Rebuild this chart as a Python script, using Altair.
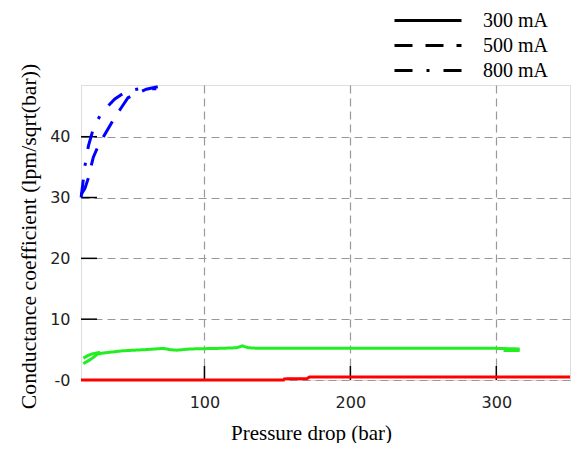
import altair as alt
import pandas as pd

# ---- data ----
currents = ["300 mA", "500 mA", "800 mA"]

blue_800_x = [15.5, 16.5, 18.1, 20.5, 23.8, 28.3, 32.9, 38.6, 46.6, 55.6, 67.0]
blue_800_y = [30.0, 32.0, 35.2, 38.5, 41.3, 43.4, 44.8, 46.2, 47.5, 47.9, 47.9]

blue_500_x = [15.5, 18.1, 20.3, 23.8, 27.2, 34.0, 38.6, 43.1, 47.6, 55.6, 60.2, 68.0]
blue_500_y = [30.5, 31.5, 33.1, 36.6, 38.5, 41.3, 43.2, 44.8, 46.4, 47.3, 47.8, 48.2]

green_300_x = [17, 21.5, 27, 33, 44, 60, 72, 76, 81, 90, 110, 122, 126, 130, 138, 200, 260, 300, 316]
green_300_y = [2.7, 3.3, 4.3, 4.5, 4.8, 5.0, 5.2, 5.0, 4.9, 5.1, 5.2, 5.3, 5.6, 5.3, 5.2, 5.2, 5.2, 5.2, 5.1]

green_500a_x = [17, 20, 23, 27, 32]
green_500a_y = [3.6, 4.0, 4.3, 4.5, 4.6]
green_500b_x = [305, 316]
green_500b_y = [4.85, 4.85]

red_300a_x = [15.4, 155]
red_300a_y = [0.0, 0.0]
red_300b_x = [154, 156, 170, 172, 350.5]
red_300b_y = [0.15, 0.2, 0.2, 0.5, 0.5]

x_ticks = [100, 200, 300]
y_ticks = [0, 10, 20, 30, 40]
y_inner_ticks = [10, 20, 30, 40]

series = [
    ("b800", "blue", "800 mA", blue_800_x, blue_800_y),
    ("b500", "blue", "500 mA", blue_500_x, blue_500_y),
    ("g300", "green", "300 mA", green_300_x, green_300_y),
    ("g500a", "green", "500 mA", green_500a_x, green_500a_y),
    ("g500b", "green", "500 mA", green_500b_x, green_500b_y),
    ("r300a", "red", "300 mA", red_300a_x, red_300a_y),
    ("r300b", "red", "300 mA", red_300b_x, red_300b_y),
]
rows = []
for sid, col, cur, xs, ys in series:
    for i, (xv, yv) in enumerate(zip(xs, ys)):
        rows.append({"sid": sid, "grp": col, "current": cur, "x": xv, "y": yv, "i": i})
df = pd.DataFrame(rows)

XDOM = [15.4, 350.5]
YDOM = [0, 48.5]
W, H = 489, 295

xscale = alt.Scale(domain=XDOM, nice=False, zero=False)
yscale = alt.Scale(domain=YDOM, nice=False, zero=False)

serif = "Liberation Serif"
sans = "DejaVu Sans"

x_axis = alt.Axis(
    values=x_ticks, grid=True, gridDash=[8, 5], gridColor="#999999", gridWidth=1.2,
    ticks=False, tickSize=0, domain=False,
    labelFont=sans, labelFontSize=16, labelColor="#222222", labelPadding=14,
    title="Pressure drop (bar)", titleFont=serif, titleFontSize=21,
    titleFontWeight="normal", titleColor="#000000",
    titleX=230, titleY=59, titleBaseline="alphabetic", titleAlign="center",
)
y_axis = alt.Axis(
    values=y_ticks, grid=True, gridDash=[8, 5], gridColor="#999999", gridWidth=1.2,
    ticks=False, tickSize=0, domain=False,
    labelFont=sans, labelFontSize=16, labelColor="#222222", labelPadding=11,
    labelExpr="datum.value == 0 ? '-0' : datum.label",
    title="Conductance coefficient (lpm/sqrt(bar))", titleFont=serif, titleFontSize=21.7,
    titleFontWeight="normal", titleColor="#000000",
    titleX=-46, titleY=151, titleAngle=-90, titleBaseline="alphabetic", titleAlign="center",
)

lines = alt.Chart(df).mark_line(strokeWidth=3).encode(
    x=alt.X("x:Q", scale=xscale, axis=x_axis),
    y=alt.Y("y:Q", scale=yscale, axis=y_axis),
    color=alt.Color("grp:N", scale=alt.Scale(domain=["blue", "green", "red"],
                                             range=["#0000ff", "#22ee22", "#ff0000"]),
                    legend=None),
    strokeDash=alt.StrokeDash(
        "current:N",
        scale=alt.Scale(domain=currents, range=[[1, 0], [18, 13], [18, 14, 3, 14]]),
        legend=alt.Legend(
            title=None, orient="none", legendX=312, legendY=-77,
            symbolType="stroke", symbolSize=4489, symbolStrokeWidth=3,
            symbolStrokeColor="#000000", clipHeight=25, rowPadding=0, padding=0,
            labelFont=serif, labelFontSize=20, labelColor="#000000", labelOffset=20,
        ),
    ),
    detail="sid:N",
    order="i:Q",
)

xt = alt.Chart(pd.DataFrame({"x": x_ticks})).mark_rule(color="#000000", strokeWidth=1.5).encode(
    x=alt.X("x:Q", scale=xscale),
    y=alt.value(H), y2=alt.value(H - 14),
)
yt = alt.Chart(pd.DataFrame({"y": y_inner_ticks})).mark_rule(color="#000000", strokeWidth=1.5).encode(
    y=alt.Y("y:Q", scale=yscale),
    x=alt.value(0), x2=alt.value(16),
)

chart = alt.layer(xt, yt, lines).properties(
    width=W, height=H,
    autosize=alt.AutoSizeParams(type="none"),
    padding={"left": 73, "top": 77, "right": 1, "bottom": 63},
).configure_view(stroke="#333333", strokeWidth=1.5).configure(background="white")

chart.save("out.html", embed_options={"renderer": "svg", "actions": False})
